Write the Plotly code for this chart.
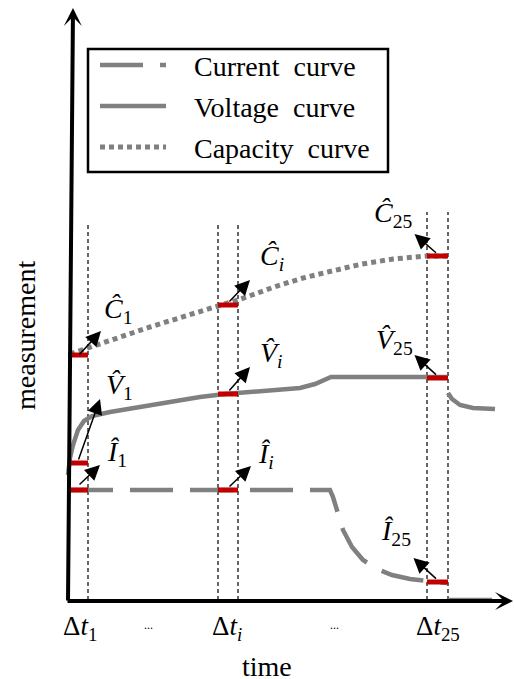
import plotly.graph_objects as go

# ---------------- data (time units, measurement units) ----------------
current_t = [0, 260, 263, 267, 273, 282, 293, 307, 322, 340, 357, 377]
current_m = [110, 110, 103, 90, 70, 53, 40, 31, 25, 21, 19, 17]
current_tail_t = [378, 422]
current_tail_m = [0, 0]

voltage_t = [-2, 0, 3, 8, 14, 22, 40, 70, 100, 130, 155, 180, 205, 230, 245, 255, 261, 378,
             None, 378, 382, 390, 403, 425]
voltage_m = [125, 142, 155, 170, 179, 184, 188, 193, 198, 203, 206, 208, 209, 212, 216, 220, 223, 223,
             None, 207, 201, 195, 192, 191]

capacity_t = [0, 18, 80, 148, 168, 207, 233, 262, 292, 323, 357, 377]
capacity_m = [246, 252, 273, 294, 300, 314, 322, 329, 336, 341, 344, 344]

window_start = [-2, 148, 357]
window_end = [18, 168, 378]
current_hat = [110, 110, 18]
voltage_hat = [137, 206, 222]
capacity_hat = [245, 295, 344]

tick_labels = ["Δ<i>t</i><sub>1</sub>", "Δ<i>t</i><sub><i>i</i></sub>", "Δ<i>t</i><sub>25</sub>"]
series_names = ["Current\u00a0 curve", "Voltage\u00a0 curve", "Capacity\u00a0 curve"]

GRAY = "#808080"
RED = "#C00000"
FONT = "Liberation Serif"
DASH_CURRENT = "43px,17px"
DASH_CAPACITY = "5px,4px"

fig = go.Figure()

fig.add_trace(go.Scatter(x=current_t, y=current_m, mode="lines", name=series_names[0], showlegend=False,
                         line=dict(color=GRAY, width=4.5, dash=DASH_CURRENT)))
fig.add_trace(go.Scatter(x=voltage_t, y=voltage_m, mode="lines", name=series_names[1], showlegend=False,
                         line=dict(color=GRAY, width=4.5), connectgaps=False))
fig.add_trace(go.Scatter(x=capacity_t, y=capacity_m, mode="lines", name=series_names[2], showlegend=False,
                         line=dict(color=GRAY, width=5, dash=DASH_CAPACITY)))
fig.add_trace(go.Scatter(x=current_tail_t, y=current_tail_m, mode="lines", showlegend=False,
                         line=dict(color=GRAY, width=4.5)))

# red measurement markers
for series in (current_hat, voltage_hat, capacity_hat):
    xs, ys = [], []
    for a, b, v in zip(window_start, window_end, series):
        xs += [a, b, None]
        ys += [v, v, None]
    fig.add_trace(go.Scatter(x=xs, y=ys, mode="lines", showlegend=False,
                             line=dict(color=RED, width=5)))

# vertical dashed window lines
tops = [378, 378, 378, 388, 388]
for xv, top in zip([window_end[0], window_start[1], window_end[1], window_start[2], window_end[2]], tops):
    fig.add_shape(type="line", x0=xv, x1=xv, y0=0, y1=top, xref="x", yref="y",
                  line=dict(color="black", width=1.2, dash="4px,3px"), layer="below")

# legend box (drawn manually)
fig.add_shape(type="rect", x0=18, x1=318, y0=428, y1=551, xref="x", yref="y",
              line=dict(color="black", width=2.5), fillcolor="white", layer="above")
legend_rows = [535, 494, 453]
legend_styles = [dict(width=4.5, dash=DASH_CURRENT), dict(width=4.5, dash="solid"), dict(width=5, dash=DASH_CAPACITY)]
for yy, st in zip(legend_rows, legend_styles):
    fig.add_shape(type="line", x0=30, x1=96, y0=yy, y1=yy, xref="x", yref="y",
                  line=dict(color=GRAY, **st), layer="above")

ann = []
for name, yy in zip(series_names, legend_rows):
    ann.append(dict(x=122, y=yy - 1, xref="x", yref="y", text=name, showarrow=False,
                    xanchor="left", yanchor="middle", font=dict(family=FONT, size=28, color="black")))

# axes arrows
ann.append(dict(x=3, y=592, ax=-2, ay=-2, xref="x", yref="y", axref="x", ayref="y", text="",
                showarrow=True, arrowhead=3, arrowwidth=4, arrowsize=0.75, arrowcolor="black",
                standoff=0, startstandoff=0))
ann.append(dict(x=443, y=-1, ax=-4, ay=-1, xref="x", yref="y", axref="x", ayref="y", text="",
                showarrow=True, arrowhead=3, arrowwidth=4, arrowsize=0.75, arrowcolor="black",
                standoff=0, startstandoff=0))

# small label arrows
mids = [(a + b) / 2 for a, b in zip(window_start, window_end)]
arrow_specs = [
    (0, capacity_hat, 23, 25, -3), (0, voltage_hat, 22, 62, 0), (0, current_hat, 22, 21, 2),
    (1, capacity_hat, 22, 23, 0), (1, voltage_hat, 22, 25, 0), (1, current_hat, 23, 22, 0),
    (2, capacity_hat, -23, 20, 0), (2, voltage_hat, -23, 21, 0), (2, current_hat, -24, 22, 0),
]
for w, ser, dx, dy, oy in arrow_specs:
    x0 = mids[w]
    y0 = ser[w] + oy + 2
    ann.append(dict(x=x0 + dx, y=y0 + dy, ax=x0, ay=y0, xref="x", yref="y", axref="x", ayref="y",
                    text="", showarrow=True, arrowhead=2, arrowwidth=1.5, arrowsize=2.0,
                    arrowcolor="black", standoff=0, startstandoff=0))

def sub(n):
    return "<sub><i>i</i></sub>" if n == "i" else "<sub>" + n + "</sub>"

labels = [
    ("<i>Ĉ</i>" + sub("1"), 32, 290), ("<i>V̂</i>" + sub("1"), 34, 214), ("<i>Î</i>" + sub("1"), 35, 147),
    ("<i>Ĉ</i>" + sub("i"), 188, 343), ("<i>V̂</i>" + sub("i"), 188, 246), ("<i>Î</i>" + sub("i"), 186, 145),
    ("<i>Ĉ</i>" + sub("25"), 302, 386), ("<i>V̂</i>" + sub("25"), 304, 259), ("<i>Î</i>" + sub("25"), 309, 68),
]
for txt, lx, ly in labels:
    ann.append(dict(x=lx, y=ly, xref="x", yref="y", text=txt, showarrow=False,
                    xanchor="left", yanchor="middle", font=dict(family=FONT, size=28, color="black")))

# tick labels
for txt, cx in zip(tick_labels, [10, 157, 368]):
    ann.append(dict(x=cx, y=-28, xref="x", yref="y", text=txt, showarrow=False,
                    xanchor="center", yanchor="middle", font=dict(family=FONT, size=27, color="black")))
for cx in [78, 264]:
    ann.append(dict(x=cx, y=-25, xref="x", yref="y", text="...", showarrow=False,
                    xanchor="center", yanchor="middle", font=dict(family=FONT, size=12, color="black")))

# axis titles
ann.append(dict(x=-45, y=264, xref="x", yref="y", text="measurement", textangle=-90, showarrow=False,
                xanchor="center", yanchor="middle", font=dict(family=FONT, size=28, color="black")))
ann.append(dict(x=197, y=-66, xref="x", yref="y", text="time", showarrow=False,
                xanchor="center", yanchor="middle", font=dict(family=FONT, size=28, color="black")))

fig.update_layout(
    width=514, height=679,
    margin=dict(l=0, r=0, t=0, b=0),
    paper_bgcolor="white", plot_bgcolor="white",
    font=dict(family=FONT, color="black"),
    xaxis=dict(range=[-70, 444], visible=False, fixedrange=True),
    yaxis=dict(range=[-79, 600], visible=False, fixedrange=True),
    annotations=ann,
    showlegend=False,
)

fig.write_html("out.html", post_script="document.body.style.margin='0px';",
               config={"displayModeBar": False})
